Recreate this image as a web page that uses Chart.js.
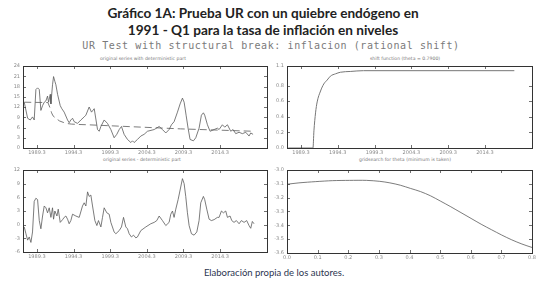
<!DOCTYPE html>
<html>
<head>
<meta charset="utf-8">
<script src="https://cdn.jsdelivr.net/npm/chart.js@4.4.1/dist/chart.umd.min.js"></script>
<style>
  body { margin: 0; background: #fff; width: 543px; height: 285px; overflow: hidden; position: relative; }
  .txt { position: absolute; white-space: nowrap; transform: translateX(-50%); }
  #title { left: 263px; top: 5px; font-family: "Lato", "Noto Sans", sans-serif; font-weight: bold; font-size: 13.6px; line-height: 17px; color: #222; text-align: center; }
  #subtitle { left: 271px; top: 40px; font-family: "DejaVu Sans Mono", monospace; font-size: 10px; letter-spacing: 0.6px; color: #7a7a7a; }
  .ptitle { font-family: "DejaVu Sans", sans-serif; font-size: 4.6px; color: #777; }
  #footer { left: 274px; top: 267px; font-family: "Lato", "Noto Sans", sans-serif; font-size: 9.5px; color: #2c3550; }
  .panel { position: absolute; }
</style>
</head>
<body>
<div id="title" class="txt">Gráfico 1A: Prueba UR con un quiebre endógeno en<br>1991 - Q1 para la tasa de inflación en niveles</div>
<div id="subtitle" class="txt">UR Test with structural break: inflacion (rational shift)</div>
<div class="txt ptitle" style="left:143px; top:56px;">original series with deterministic part</div>
<div class="txt ptitle" style="left:405px; top:56px;">shift function (theta = 0.7900)</div>
<div class="txt ptitle" style="left:142px; top:157px;">original series - deterministic part</div>
<div class="txt ptitle" style="left:405px; top:157px;">gridsearch for theta (minimum is taken)</div>
<div id="footer" class="txt">Elaboración propia de los autores.</div>

<canvas id="chartTL" class="panel" width="272" height="98" style="left:0px; top:60px;"></canvas>
<canvas id="chartTR" class="panel" width="272" height="98" style="left:267px; top:60px;"></canvas>
<canvas id="chartBL" class="panel" width="272" height="98" style="left:0px; top:164px;"></canvas>
<canvas id="chartBR" class="panel" width="272" height="99" style="left:267px; top:164px;"></canvas>

<script>
// 1) Data
const timeTicks = [1989.5, 1994.5, 1999.5, 2004.5, 2009.5, 2014.5];
const timeTickLabels = ["1989.3", "1994.3", "1999.3", "2004.3", "2009.3", "2014.3"];

const datesOriginal = [1987.77, 1988.23, 1988.59, 1988.9, 1989.13, 1989.36, 1989.59, 1989.82, 1990.04, 1990.27,
  1990.5, 1990.73, 1990.95, 1991.09, 1991.32, 1991.41, 1991.63, 1991.77, 1991.95, 1992.09,
  1992.32, 1992.68, 1992.9, 1993.22, 1993.68, 1993.9, 1994.13, 1994.36, 1994.59, 1995.04,
  1995.5, 1995.95, 1996.18, 1996.63, 1996.95, 1997.32, 1997.77, 1998.0, 1998.23, 1998.68,
  1999.13, 1999.59, 2000.04, 2000.4, 2000.73, 2001.04, 2001.4, 2001.86, 2002.32, 2002.54,
  2002.77, 2003.22, 2003.68, 2004.13, 2004.59, 2005.5, 2006.18, 2006.63, 2007.09, 2007.54,
  2007.86, 2008.22, 2008.68, 2009.04, 2009.36, 2009.59, 2009.86, 2010.13, 2010.4, 2010.86,
  2011.18, 2011.63, 2011.95, 2012.22, 2012.4, 2012.77, 2013.13, 2013.68, 2014.13, 2014.36,
  2014.81, 2015.13, 2015.5, 2015.95, 2016.27, 2016.63, 2017.09, 2017.54, 2018.0, 2018.45,
  2018.68, 2019.0];
const inflation = [13.4, 8.7, 8.2, 9.1, 8.2, 17.1, 17.6, 17.1, 11.0, 12.4,
  13.4, 13.8, 15.2, 13.4, 15.7, 12.9, 18.5, 20.9, 19.5, 18.5,
  15.7, 12.4, 11.5, 10.5, 8.2, 7.4, 8.2, 8.7, 7.7, 7.2,
  8.2, 9.1, 9.6, 12.0, 10.5, 11.5, 5.4, 4.9, 6.3, 8.2,
  7.2, 5.4, 3.0, 4.0, 5.4, 6.3, 4.0, 2.5, 1.6, 2.1,
  1.6, 2.5, 3.5, 4.0, 4.9, 5.4, 6.3, 5.4, 4.4, 5.4,
  6.8, 7.7, 10.5, 12.9, 14.6, 13.4, 9.6, 5.8, 2.5, 2.1,
  3.0, 5.8, 9.6, 10.3, 9.6, 6.8, 4.9, 5.4, 5.8, 5.4,
  6.8, 6.1, 6.8, 4.9, 5.4, 4.2, 4.6, 4.2, 4.6, 3.5,
  4.4, 4.0];

const datesDeterministic = [1987.77, 1991.0, 1991.3, 1991.5, 1991.7, 1992.2, 1992.6, 1993.1, 1993.5, 1994.2, 1995.0, 1996.4, 2009.1, 2019.0];
const deterministic = [13.4, 13.3, 11.7, 10.3, 9.4, 8.5, 7.9, 7.5, 7.2, 7.0, 6.9, 6.8, 5.6, 4.9];

const datesShift = [1987.77, 1991.13, 1991.26, 1991.48, 1991.7, 1992.16, 1992.6, 1993.06, 1993.5, 1994.2, 1994.86, 1996.2, 1998.0, 2018.5];
const shiftValues = [0, 0, 0.22, 0.45, 0.59, 0.73, 0.82, 0.87, 0.92, 0.95, 0.97, 0.98, 0.99, 0.99];

const datesResidual = [1987.77, 1988.0, 1988.23, 1988.45, 1988.68, 1988.9, 1989.13, 1989.36, 1989.59, 1989.82,
  1990.04, 1990.27, 1990.5, 1990.73, 1990.95, 1991.18, 1991.41, 1991.63, 1991.77, 1991.95,
  1992.23, 1992.41, 1992.68, 1993.0, 1993.22, 1993.45, 1993.68, 1993.9, 1994.13, 1994.36,
  1994.81, 1995.27, 1995.72, 1995.95, 1996.18, 1996.41, 1996.63, 1996.86, 1997.09, 1997.41,
  1997.68, 1997.9, 1998.23, 1998.45, 1998.68, 1999.04, 1999.36, 1999.59, 2000.04, 2000.27,
  2000.73, 2001.04, 2001.32, 2001.63, 2001.86, 2002.09, 2002.4, 2002.68, 2003.0, 2003.22,
  2003.68, 2004.36, 2005.04, 2005.5, 2005.86, 2006.18, 2006.63, 2007.09, 2007.54, 2007.77,
  2008.0, 2008.22, 2008.45, 2008.77, 2009.04, 2009.36, 2009.59, 2009.81, 2010.04, 2010.27,
  2010.59, 2010.95, 2011.32, 2011.63, 2011.86, 2012.22, 2012.4, 2012.68, 2013.0, 2013.31,
  2013.68, 2014.13, 2014.36, 2014.68, 2014.95, 2015.27, 2015.5, 2015.86, 2016.09, 2016.4,
  2016.72, 2017.09, 2017.4, 2017.77, 2018.13, 2018.45, 2018.68, 2018.9, 2019.13];
const residual = [-0.5, -2.0, -3.4, -2.7, -3.9, -1.6, 5.1, 5.8, 5.5, 0.9,
  -0.9, 1.9, 4.1, 3.7, 2.6, 3.7, 1.6, 3.7, 1.2, 3.0,
  1.9, 3.4, 0.5, 1.1, 1.6, 1.9, 1.2, 0.2, 0.9, 2.3,
  1.9, 1.6, 4.1, 4.8, 4.1, 7.2, 6.2, 6.5, 4.1, 0.9,
  -0.2, 0.9, -0.5, 1.6, 3.7, 2.6, 2.3, 0.5, -1.6, -2.0,
  -1.3, -0.5, 1.6, -0.5, -0.9, -2.0, -2.7, -2.3, -2.9, -2.7,
  -1.3, -0.5, 0.2, 0.5, 0.9, 1.9, 0.9, -0.2, 0.5, 2.3,
  3.0, 1.6, 3.4, 5.5, 7.6, 10.1, 9.0, 6.2, 2.6, -0.2,
  -2.0, -2.3, -1.6, 0.9, 4.8, 6.2, 5.5, 3.4, 1.2, 0.9,
  1.1, 1.6, 1.6, 3.0, 2.6, 3.0, 1.6, 1.9, 0.9, 0.5,
  0.9, 0.2, 0.9, 0.5, 0.9, -0.2, -0.8, 0.7, 0.2];

const thetaGrid = [0.0, 0.039, 0.094, 0.149, 0.204, 0.26, 0.303, 0.336, 0.37, 0.403, 0.436,
  0.469, 0.502, 0.535, 0.568, 0.601, 0.634, 0.668, 0.701, 0.734, 0.767, 0.8];
const gridStat = [-3.103, -3.093, -3.084, -3.077, -3.075, -3.075, -3.082, -3.093, -3.110, -3.133, -3.156,
  -3.187, -3.226, -3.266, -3.308, -3.350, -3.392, -3.432, -3.470, -3.505, -3.535, -3.560];

// 2) Helpers
const lineColor = "#5a5a5a";
const tickColor = "#8a8a8a";
const tickFont = { family: "DejaVu Sans", size: 5 };

function toPoints(xs, ys) {
  return xs.map((x, i) => ({ x: x, y: ys[i] }));
}

// box round the plot area with small inward tick marks on every side
const boxPlugin = {
  id: "box",
  afterDraw(chart) {
    const { ctx, chartArea: a, scales } = chart;
    ctx.save();
    ctx.strokeStyle = "#333";
    ctx.lineWidth = 1;
    ctx.strokeRect(a.left + 0.5, a.top + 0.5, a.right - a.left, a.bottom - a.top);
    ctx.lineWidth = 0.7;
    ctx.beginPath();
    scales.x.ticks.forEach(t => {
      const px = Math.round(scales.x.getPixelForValue(t.value)) + 0.5;
      ctx.moveTo(px, a.bottom); ctx.lineTo(px, a.bottom - 3);
      ctx.moveTo(px, a.top); ctx.lineTo(px, a.top + 3);
    });
    scales.y.ticks.forEach(t => {
      const py = Math.round(scales.y.getPixelForValue(t.value)) + 0.5;
      ctx.moveTo(a.left, py); ctx.lineTo(a.left + 3, py);
      ctx.moveTo(a.right, py); ctx.lineTo(a.right - 3, py);
    });
    ctx.stroke();
    ctx.restore();
  }
};

function makeChart(canvasId, datasets, xScale, yScale, yWidth, padRight) {
  return new Chart(document.getElementById(canvasId), {
    type: "line",
    data: { datasets: datasets },
    options: {
      responsive: false,
      animation: false,
      layout: { padding: { top: 4, right: padRight, left: 0, bottom: 0 } },
      plugins: { legend: { display: false }, tooltip: { enabled: false } },
      elements: { point: { radius: 0 } },
      scales: {
        x: Object.assign({
          type: "linear",
          grid: { display: false, drawTicks: false },
          border: { display: false },
          afterFit: s => { s.height = 10; }
        }, xScale),
        y: Object.assign({
          type: "linear",
          grid: { display: false, drawTicks: false },
          border: { display: false },
          afterFit: s => { s.width = yWidth; }
        }, yScale)
      }
    },
    plugins: [boxPlugin]
  });
}

const timeAxis = {
  min: 1987.6,
  max: 2020.9,
  afterBuildTicks: s => { s.ticks = timeTicks.map(v => ({ value: v })); },
  ticks: {
    font: tickFont, color: tickColor, padding: 2, maxRotation: 0, autoSkip: false,
    callback: v => timeTickLabels[timeTicks.indexOf(v)]
  }
};

function valueAxis(min, max, step, digits) {
  return {
    min: min, max: max,
    ticks: { stepSize: step, font: tickFont, color: tickColor, padding: 3,
      callback: v => Number(v).toFixed(digits) }
  };
}

// 3) Panels
makeChart("chartTL", [
  { data: toPoints(datesOriginal, inflation), borderColor: lineColor, borderWidth: 0.8, tension: 0 },
  { data: toPoints(datesDeterministic, deterministic), borderColor: lineColor, borderWidth: 0.8, borderDash: [7, 4], tension: 0 }
], timeAxis, valueAxis(0, 24, 3, 0), 23, 5);

makeChart("chartTR", [
  { data: toPoints(datesShift, shiftValues), borderColor: "#777", borderWidth: 1, cubicInterpolationMode: "monotone" }
], timeAxis, valueAxis(0, 1.05, 0.1, 1), 20, 7);

makeChart("chartBL", [
  { data: toPoints(datesResidual, residual), borderColor: lineColor, borderWidth: 0.8, tension: 0 }
], timeAxis, valueAxis(-6, 12, 3, 0), 23, 5);

makeChart("chartBR", [
  { data: toPoints(thetaGrid, gridStat), borderColor: lineColor, borderWidth: 0.8, tension: 0.3 }
], {
  min: 0, max: 0.8,
  ticks: { stepSize: 0.1, font: tickFont, color: tickColor, padding: 2, maxRotation: 0, autoSkip: false,
    callback: v => Number(v).toFixed(1) }
}, valueAxis(-3.6, -3.0, 0.1, 1), 20, 7);
</script>
</body>
</html>
